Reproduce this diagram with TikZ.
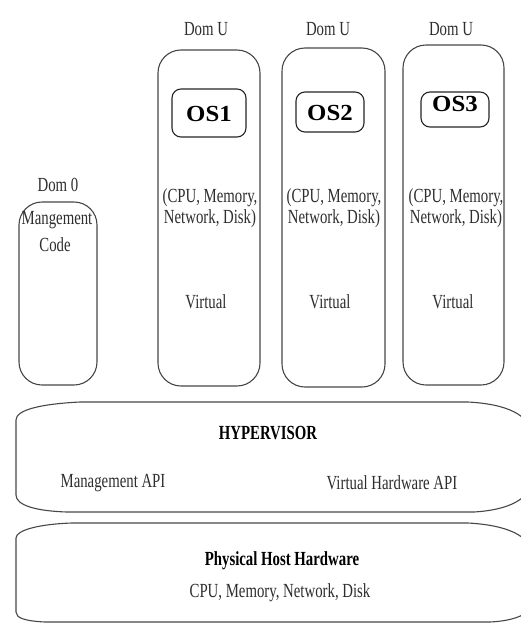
\documentclass[tikz,border=0pt]{standalone}
\usepackage{fontspec}
\setmainfont{Liberation Serif}[FakeStretch=0.74]
\newfontfamily\osfont{Liberation Serif}[FakeStretch=1.08]
\begin{document}
\begin{tikzpicture}[x=1pt,y=-1pt,
  box/.style={draw=black!72, line width=1.1pt, rounded corners=23pt, inner sep=0pt},
  osbox/.style={draw=black!85, line width=1.1pt, rounded corners=9pt, inner sep=0pt},
  layer/.style={draw=black!72, line width=1.1pt},
  txt/.style={inner sep=0pt, text=black!82, font=\fontsize{20}{21.5}\selectfont},
  ostxt/.style={inner sep=0pt, text=black, font=\osfont\bfseries\fontsize{23}{24}\selectfont},
  btxt/.style={inner sep=0pt, text=black, font=\bfseries\fontsize{20}{21.5}\selectfont}]
\useasboundingbox (0,0) rectangle (521,624);
\clip (0,0) rectangle (521,624);
\fill[white] (0,0) rectangle (521,624);

% Dom 0
\node[txt] (d0lab) at (58,185) {Dom 0};
\node[box, minimum width=78pt, minimum height=183pt] (d0) at (58,293.5) {};
\node[txt] (d0a) at (57,220) {Mangement};
\node[txt] (d0b) at (55,245) {Code};

% Dom U 1
\node[txt] (u1lab) at (206,29) {Dom U};
\node[box, minimum width=102pt, minimum height=336pt] (u1) at (209,218) {};
\node[osbox, minimum width=74pt, minimum height=48pt] (os1) at (209,113) {};
\node[ostxt] (os1t) at (209,114) {OS1};
\node[txt, align=center] (u1c) at (210,208) {(CPU, Memory,\\Network, Disk)};
\node[txt] (u1v) at (206,302) {Virtual};

% Dom U 2
\node[txt] (u2lab) at (328,29) {Dom U};
\node[box, minimum width=103pt, minimum height=339pt] (u2) at (333.5,217.5) {};
\node[osbox, minimum width=68pt, minimum height=40pt] (os2) at (330,112) {};
\node[ostxt] (os2t) at (330,113) {OS2};
\node[txt, align=center] (u2c) at (334,208) {(CPU, Memory,\\Network, Disk)};
\node[txt] (u2v) at (330,302) {Virtual};

% Dom U 3
\node[txt] (u3lab) at (451,29) {Dom U};
\node[box, minimum width=101pt, minimum height=340pt] (u3) at (453.5,215) {};
\node[osbox, minimum width=68pt, minimum height=35pt] (os3) at (455,109.5) {};
\node[ostxt] (os3t) at (455,104) {OS3};
\node[txt, align=center] (u3c) at (456,208) {(CPU, Memory,\\Network, Disk)};
\node[txt] (u3v) at (453,302) {Virtual};

% Hypervisor
\draw[layer] (80,402) -- (468,402) .. controls (505,404) and (533,414) .. (533,440)
  -- (533,475) .. controls (533,500) and (507,510) .. (474,512) -- (67,512)
  .. controls (35,511) and (16,505) .. (16,495) -- (16,420)
  .. controls (16,410) and (40,404) .. (80,402) -- cycle;
\node[btxt] (hv) at (268,433) {HYPERVISOR};
\node[txt] (mapi) at (113,483) {Management API};
\node[txt] (vapi) at (392,483) {Virtual Hardware API};

% Physical host hardware
\draw[layer] (72,523) -- (468,523) .. controls (505,525) and (533,535) .. (533,558)
  -- (533,600) .. controls (533,615) and (512,621) .. (490,622) -- (45,622)
  .. controls (25,621) and (16,618) .. (16,612) -- (16,538)
  .. controls (16,530) and (40,524) .. (72,523) -- cycle;
\node[btxt] (phw) at (282,561) {Physical Host Hardware};
\node[txt] (phs) at (280,593) {CPU, Memory, Network, Disk};
\end{tikzpicture}
\end{document}
